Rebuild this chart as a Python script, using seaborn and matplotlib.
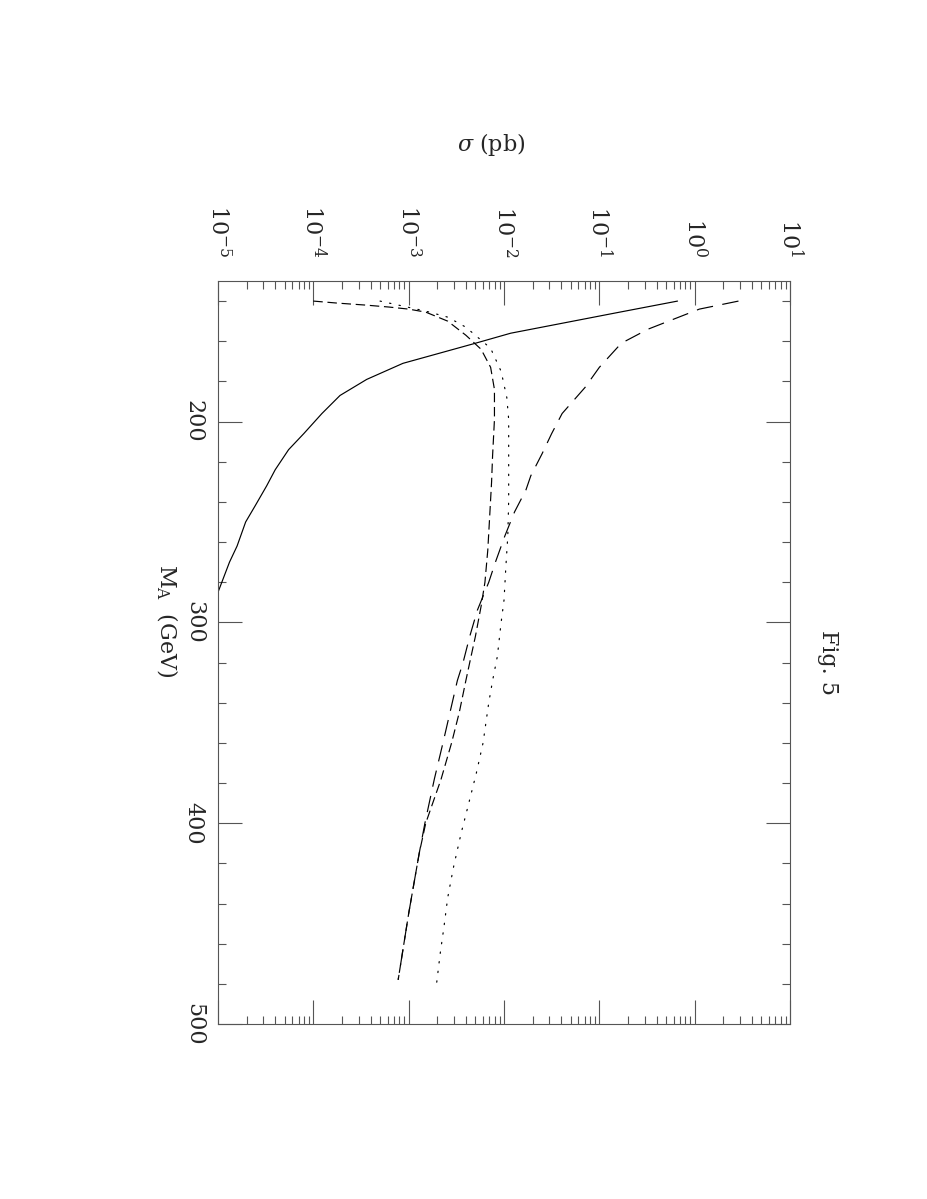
import numpy as np
import pandas as pd
import matplotlib
matplotlib.use("Agg")
import matplotlib.pyplot as plt
import seaborn as sns
from matplotlib.ticker import FixedLocator, MultipleLocator, LogLocator, NullFormatter

# values: M_A in GeV, sigma in pb
ma_solid = [140, 146, 156, 161, 171, 179, 187, 196, 206, 214, 224, 232, 242, 250, 262, 270, 285]
sig_solid = [0.661, 0.1445, 0.01175, 0.00501, 8.71e-4, 3.63e-4, 1.905e-4, 1.23e-4, 7.94e-5,
             5.50e-5, 3.98e-5, 3.24e-5, 2.45e-5, 1.95e-5, 1.585e-5, 1.32e-5, 1.0e-5]

ma_long = [140, 144, 154, 161, 173, 183, 196, 206, 216, 227, 234, 245, 257, 270, 280, 294,
           307, 320, 329, 360, 378, 400, 415, 445, 478]
sig_long = [2.88, 1.12, 0.324, 0.170, 0.100, 0.0708, 0.0407, 0.0316, 0.0251, 0.0191, 0.0170,
            0.0129, 0.0102, 0.00813, 0.00692, 0.00525, 0.00437, 0.00372, 0.00324, 0.00229,
            0.00186, 0.00148, 0.00129, 0.00100, 0.000776]

ma_short = [140, 141, 142, 143, 144, 145.5, 150, 157, 164, 173, 184, 199, 217, 230, 247, 264,
            280, 292, 307, 320, 329, 345, 360, 378, 400, 415, 445, 478]
sig_short = [1.0e-4, 1.78e-4, 3.55e-4, 6.31e-4, 1.0e-3, 1.51e-3, 2.57e-3, 3.98e-3, 5.75e-3,
             7.24e-3, 7.94e-3, 7.94e-3, 7.59e-3, 7.41e-3, 7.08e-3, 6.76e-3, 6.31e-3, 5.75e-3,
             5.01e-3, 4.37e-3, 3.98e-3, 3.39e-3, 2.82e-3, 2.19e-3, 1.51e-3, 1.29e-3, 1.0e-3, 7.76e-4]

ma_dot = [140, 142.5, 145, 148, 153, 163.5, 175, 188, 199, 219, 239, 257, 272, 289, 300, 317,
          329, 340, 360, 375, 392, 405, 422, 437, 452, 465, 481]
sig_dot = [5.01e-4, 8.71e-4, 1.51e-3, 2.57e-3, 3.98e-3, 7.24e-3, 9.33e-3, 0.0107, 0.0112,
           0.0112, 0.0112, 0.01096, 0.01047, 0.0100, 0.00933, 0.00851, 0.00759, 0.00692,
           0.00603, 0.00513, 0.00417, 0.00355, 0.00295, 0.00257, 0.00234, 0.00214, 0.00195]

sig_ticks = [1e-5, 1e-4, 1e-3, 1e-2, 1e-1, 1e0, 1e1]
sig_labels = [r"$10^{-5}$", r"$10^{-4}$", r"$10^{-3}$", r"$10^{-2}$", r"$10^{-1}$", r"$10^{0}$", r"$10^{1}$"]
ma_ticks = [200, 300, 400, 500]
ma_labels = ["200", "300", "400", "500"]

df = pd.concat([
    pd.DataFrame({"ma": ma_solid, "sigma": sig_solid, "curve": "solid"}),
    pd.DataFrame({"ma": ma_long, "sigma": sig_long, "curve": "long"}),
    pd.DataFrame({"ma": ma_short, "sigma": sig_short, "curve": "short"}),
    pd.DataFrame({"ma": ma_dot, "sigma": sig_dot, "curve": "dot"}),
], ignore_index=True)

sns.set_style("ticks")
plt.rcParams["font.family"] = ["DejaVu Serif"]
plt.rcParams["mathtext.fontset"] = "dejavuserif"

W, H = 927, 1199
fig = plt.figure(figsize=(W / 100, H / 100), dpi=100)
ax = fig.add_axes([218 / W, 1 - 1024 / H, 572 / W, 743 / H])
ax.set_xscale("log")

sns.lineplot(data=df, x="sigma", y="ma", style="curve",
             style_order=["solid", "long", "short", "dot"],
             dashes={"solid": "", "long": (14, 8), "short": (8, 4), "dot": (1.2, 7)},
             color="black", linewidth=0.85, estimator=None, sort=False,
             legend=False, ax=ax)
# rounder dots for the dotted curve
ax.lines[3].set_dash_capstyle("round")

ax.set_xlim(1e-5, 10)
ax.set_ylim(500, 130)
ax.set_xlabel("")
ax.set_ylabel("")

ax.xaxis.set_major_locator(FixedLocator(sig_ticks))
ax.set_xticklabels(sig_labels)
ax.xaxis.set_minor_locator(LogLocator(base=10, subs=np.arange(2, 10)))
ax.xaxis.set_minor_formatter(NullFormatter())
ax.yaxis.set_major_locator(FixedLocator(ma_ticks))
ax.set_yticklabels(ma_labels)
ax.yaxis.set_minor_locator(MultipleLocator(20))

ax.tick_params(which="both", direction="in", top=True, bottom=True, left=True, right=True,
               labeltop=True, labelbottom=False, labelleft=True, labelright=False,
               color="#555555", width=0.8)
ax.tick_params(which="major", length=17)
ax.tick_params(which="minor", length=5.8)
ax.tick_params(axis="x", which="major", pad=17, labelsize=16, labelrotation=-90)
ax.tick_params(axis="y", which="major", pad=9.5, labelsize=16, labelrotation=-90)
for t in ax.get_yticklabels():
    t.set_va("center")
for s in ax.spines.values():
    s.set_color("#555555")
    s.set_linewidth(0.8)

fig.text(491 / W, 1 - 145 / H, r"$\sigma$ (pb)", ha="center", va="center", fontsize=16)
fig.text(167 / W, 1 - 621 / H, r"M$_{\rm A}$  (GeV)", rotation=-90, ha="center", va="center", fontsize=16)
fig.text(828 / W, 1 - 662 / H, "Fig. 5", rotation=-90, ha="center", va="center", fontsize=16)

fig.savefig("out.png", dpi=100)
